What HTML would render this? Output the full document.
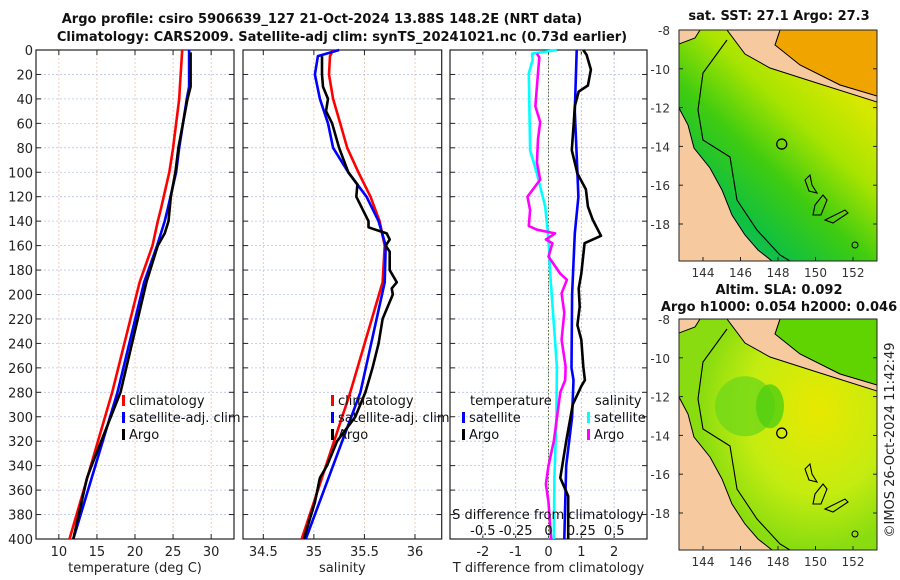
<!DOCTYPE html>
<html><head><meta charset="utf-8"><style>
html,body{margin:0;padding:0;background:#fff;}
svg{display:block;font-family:"DejaVu Sans","Liberation Sans",sans-serif;}
</style></head><body>
<svg id="fig" width="900" height="580" viewBox="0 0 900 580" xmlns="http://www.w3.org/2000/svg">
<g font-weight="bold" font-size="13" text-anchor="middle" fill="#111">
<text x="322" y="23">Argo profile: csiro 5906639_127 21-Oct-2024 13.88S 148.2E (NRT data)</text>
<text x="342" y="41">Climatology: CARS2009. Satellite-adj clim: synTS_20241021.nc (0.73d earlier)</text>
<text x="779" y="20">sat. SST: 27.1 Argo: 27.3</text>
<text x="779" y="294">Altim. SLA: 0.092</text>
<text x="779" y="311">Argo h1000: 0.054 h2000: 0.046</text>
</g>
<text x="0" y="0" font-size="13" fill="#222" text-anchor="middle" transform="translate(894,440) rotate(-90)">©IMOS 26-Oct-2024 11:42:49</text>
<g id="panels"></g>
<g id="maps"></g>
</svg>
<script>
// ---- data (depth in dbar) ----
const tempDepths   = [0, 30, 40, 80, 100, 130, 140, 160, 190, 280, 400];
const tempClim     = [26.2, 25.9, 25.8, 25.0, 24.5, 23.4, 23.0, 22.3, 20.6, 17.0, 11.4];
const tempSat      = [27.1, 27.1, 26.8, 25.8, 25.4, 24.3, 23.9, 22.9, 21.2, 17.7, 11.9];
const argoTDepths  = [2, 30, 40, 80, 100, 120, 140, 150, 160, 190, 280, 340, 350, 400];
const argoTemp     = [27.3, 27.3, 26.9, 25.7, 25.3, 24.7, 24.4, 23.9, 23.0, 21.5, 18.1, 14.3, 13.7, 11.9];

const salDepths    = [0, 5, 20, 40, 60, 80, 100, 120, 140, 160, 190, 280, 400];
const salClim      = [35.19, 35.16, 35.15, 35.19, 35.26, 35.33, 35.44, 35.56, 35.65, 35.70, 35.68, 35.36, 34.88];
const salSat       = [35.25, 35.04, 35.01, 35.06, 35.14, 35.19, 35.34, 35.52, 35.64, 35.71, 35.70, 35.46, 34.92];
const argoSDepths  = [5, 20, 30, 40, 50, 60, 80, 100, 110, 120, 140, 145, 150, 155, 160, 165, 180, 190, 195, 200, 220, 240, 260, 280, 300, 320, 340, 350, 370, 400];
const argoSal      = [35.08, 35.08, 35.09, 35.14, 35.12, 35.18, 35.25, 35.34, 35.43, 35.42, 35.54, 35.54, 35.72, 35.75, 35.71, 35.75, 35.75, 35.82, 35.77, 35.78, 35.68, 35.64, 35.58, 35.51, 35.41, 35.23, 35.13, 35.06, 35.01, 34.90];

const dTSatDepths  = [0, 50, 100, 120, 150, 200, 260, 270, 300, 340, 400];
const dTSat        = [0.86, 0.80, 0.88, 0.91, 0.80, 0.72, 0.70, 0.76, 0.72, 0.54, 0.48];
const dTArgoDepths = [0, 4, 16, 29, 34, 46, 59, 82, 101, 114, 128, 139, 152, 158, 170, 183, 195, 210, 225, 237, 259, 270, 275, 290, 320, 350, 365, 400];
const dTArgo       = [1.06, 1.16, 1.29, 1.2, 0.92, 0.8, 0.77, 0.71, 0.88, 1.14, 1.2, 1.35, 1.6, 1.1, 1.05, 1.0, 0.92, 0.95, 0.88, 1.0, 1.06, 1.11, 1.0, 0.74, 0.54, 0.36, 0.6, 0.6];
const dSSatDepths  = [0, 3, 8, 19, 82, 101, 128, 155, 183, 259, 300, 350, 400];
const dSSat        = [0.064, -0.126, -0.12, -0.15, -0.14, -0.088, -0.025, 0.0, 0.013, 0.064, 0.06, 0.045, 0.04];
const dSArgoDepths = [3, 6, 30, 46, 59, 73, 92, 106, 120, 131, 144, 147, 150, 155, 158, 169, 183, 188, 199, 215, 237, 259, 270, 280, 320, 340, 355, 370, 400];
const dSArgo       = [-0.088, -0.07, -0.088, -0.1, -0.063, -0.08, -0.088, -0.063, -0.16, -0.14, -0.15, -0.088, 0.05, -0.02, 0.03, 0.0, 0.09, 0.14, 0.1, 0.12, 0.1, 0.13, 0.127, 0.09, 0.04, 0.0, -0.02, 0.0, 0.02];

const depthTicks   = [0,20,40,60,80,100,120,140,160,180,200,220,240,260,280,300,320,340,360,380,400];
const tempTicks    = [10, 15, 20, 25, 30];
const salTicks     = [34.5, 35, 35.5, 36];
const dTTicks      = [-2, -1, 0, 1, 2];
const dSTicks      = [-0.5, -0.25, 0, 0.25, 0.5];
const dSTickLabels = ["-0.5", "-0.25", "0", "0.25", "0.5"];

const NS = "http://www.w3.org/2000/svg";
function mk(parent, tag, attrs, text) {
  const e = document.createElementNS(NS, tag);
  for (const k in attrs) e.setAttribute(k, attrs[k]);
  if (text !== undefined) e.textContent = text;
  parent.appendChild(e);
  return e;
}
const Y0 = 50, Y1 = 539;
const yScale = d => Y0 + d * (Y1 - Y0) / 400;
function linScale(d0, d1, r0, r1) { return v => r0 + (v - d0) * (r1 - r0) / (d1 - d0); }

const panels = document.getElementById('panels');

function panelFrame(name, x0, x1, xScale, xTicks, xLabels, xTitle, showYLabels) {
  const g = mk(panels, 'g', {});
  
  
  depthTicks.forEach(d => {
    const gl = mk(g, 'line', {x1: x0, x2: x1, y1: yScale(d), y2: yScale(d), stroke: '#b8c4ec', 'stroke-width': 0.8, 'stroke-dasharray': '2,2'});
    
    
    mk(g, 'line', {x1: x0, x2: x0 + 5, y1: yScale(d), y2: yScale(d), stroke: '#222', 'stroke-width': 1});
    mk(g, 'line', {x1: x1 - 5, x2: x1, y1: yScale(d), y2: yScale(d), stroke: '#222', 'stroke-width': 1});
    if (showYLabels) {
      const t = mk(g, 'text', {x: x0 - 3, y: yScale(d) + 5, 'font-size': 13, 'text-anchor': 'end', fill: '#222'}, String(d));
      
      
    }
  });
  xTicks.forEach((v, i) => {
    const x = xScale(v);
    const gl = mk(g, 'line', {x1: x, x2: x, y1: Y0, y2: Y1, stroke: '#e8c0a8', 'stroke-width': 0.8, 'stroke-dasharray': '2,2'});
    
    
    mk(g, 'line', {x1: x, x2: x, y1: Y1, y2: Y1 - 5, stroke: '#222'});
    mk(g, 'line', {x1: x, x2: x, y1: Y0, y2: Y0 + 5, stroke: '#222'});
    const t = mk(g, 'text', {x: x, y: 556, 'font-size': 13, 'text-anchor': 'middle', fill: '#222'}, xLabels[i]);
    
    
  });
  const tt = mk(g, 'text', {x: (x0 + x1) / 2, y: 572, 'font-size': 13, 'text-anchor': 'middle', fill: '#222'}, xTitle);
  
  
  const fr = mk(g, 'rect', {x: x0, y: Y0, width: x1 - x0, height: Y1 - Y0, fill: 'none', stroke: '#222', 'stroke-width': 1.2});
  
  
  return g;
}
function line(g, name, depths, vals, xScale, color, w) {
  const pts = depths.map((d, i) => xScale(vals[i]).toFixed(1) + ',' + yScale(d).toFixed(1)).join(' ');
  const p = mk(g, 'polyline', {points: pts, fill: 'none', stroke: color, 'stroke-width': w || 2.6, 'stroke-linejoin': 'round'});
  
  
}
function legend(g, x, y, color, label, name) {
  const e = mk(g, 'g', {});
  
  
  mk(e, 'rect', {x: x, y: y - 10, width: 3, height: 11, fill: color});
  mk(e, 'text', {x: x + 7, y: y, 'font-size': 13, fill: '#111'}, label);
}

// Panel 1: temperature
const xT = linScale(7, 33, 36, 234);
const p1 = panelFrame('temperature-panel', 36, 234, xT, tempTicks, tempTicks.map(String), 'temperature (deg C)', true);
line(p1, 'temp-climatology-line', tempDepths, tempClim, xT, '#f00');
line(p1, 'temp-satellite-line', tempDepths, tempSat, xT, '#00f');
line(p1, 'temp-argo-line', argoTDepths, argoTemp, xT, '#000');
legend(p1, 122, 405, '#f00', 'climatology', 'legend-climatology');
legend(p1, 122, 422, '#00f', 'satellite-adj. clim', 'legend-satellite');
legend(p1, 122, 439, '#000', 'Argo', 'legend-argo');

// Panel 2: salinity
const xS = linScale(34.5, 36, 263.3, 415);
const p2 = panelFrame('salinity-panel', 243, 441.7, xS, salTicks, salTicks.map(String), 'salinity', false);
line(p2, 'sal-climatology-line', salDepths, salClim, xS, '#f00');
line(p2, 'sal-satellite-line', salDepths, salSat, xS, '#00f');
line(p2, 'sal-argo-line', argoSDepths, argoSal, xS, '#000');
legend(p2, 331, 405, '#f00', 'climatology', 'legend-climatology');
legend(p2, 331, 422, '#00f', 'satellite-adj. clim', 'legend-satellite');
legend(p2, 331, 439, '#000', 'Argo', 'legend-argo');

// Panel 3: differences
const xD = linScale(-3, 3, 450, 647);
const xDS = linScale(-0.75, 0.75, 450, 647);
const p3 = panelFrame('difference-panel', 450, 647, xD, dTTicks, dTTicks.map(String), 'T difference from climatology', false);
dSTicks.forEach(v => {
  const gl = mk(p3, 'line', {x1: xDS(v), x2: xDS(v), y1: Y0, y2: Y1, stroke: '#b8c4ec', 'stroke-width': 0.8, 'stroke-dasharray': '2,2'});
  
  
});
const zl = mk(p3, 'line', {x1: xD(0), x2: xD(0), y1: Y0, y2: Y1, stroke: '#556b2f', 'stroke-width': 1, 'stroke-dasharray': '1.5,2'});


line(p3, 'dS-satellite-line', dSSatDepths, dSSat, xDS, '#0ff');
line(p3, 'dS-argo-line', dSArgoDepths, dSArgo, xDS, '#f0f');
line(p3, 'dT-satellite-line', dTSatDepths, dTSat, xD, '#00f');
line(p3, 'dT-argo-line', dTArgoDepths, dTArgo, xD, '#000');
const st = mk(p3, 'text', {x: 548, y: 519, 'font-size': 13, 'text-anchor': 'middle', fill: '#111'}, 'S difference from climatology');


dSTicks.forEach((v, i) => {
  const t = mk(p3, 'text', {x: xDS(v), y: 535, 'font-size': 13, 'text-anchor': 'middle', fill: '#111'}, dSTickLabels[i]);
  
  
});
const lt = mk(p3, 'text', {x: 470, y: 405, 'font-size': 13, fill: '#111'}, 'temperature');


legend(p3, 462, 422, '#00f', 'satellite', 'legend-t-satellite');
legend(p3, 462, 439, '#000', 'Argo', 'legend-t-argo');
const ls = mk(p3, 'text', {x: 595, y: 405, 'font-size': 13, fill: '#111'}, 'salinity');


legend(p3, 587, 422, '#0ff', 'satellite', 'legend-s-satellite');
legend(p3, 587, 439, '#f0f', 'Argo', 'legend-s-argo');

// ---- Maps ----
const mapLonTicks = [144, 146, 148, 150, 152];
const mapLatTicks = [-8, -10, -12, -14, -16, -18];
const argoLon = 148.2, argoLat = -13.88;
const maps = document.getElementById('maps');
const defs = mk(maps, 'defs', {});
defs.innerHTML =
 '<linearGradient id="sstG" x1="0.1" y1="1" x2="0.9" y2="0">' +
 '<stop offset="0" stop-color="#20c088"/><stop offset="0.22" stop-color="#10c040"/><stop offset="0.42" stop-color="#40cc10"/><stop offset="0.62" stop-color="#a8e400"/><stop offset="0.82" stop-color="#d8e800"/><stop offset="1" stop-color="#f0c000"/></linearGradient>' +
 '<radialGradient id="slaG" cx="0.7" cy="0.4" r="0.6"><stop offset="0" stop-color="#e8e800"/><stop offset="0.6" stop-color="#c4ec10"/><stop offset="1" stop-color="#88dc10"/></radialGradient>' +
 '<clipPath id="c1"><rect x="679" y="30" width="198" height="231"/></clipPath>' +
 '<clipPath id="c2"><rect x="679" y="319" width="198" height="231"/></clipPath>';

function drawMap(name, top, bottom, fill, northColor, clip) {
  const g = mk(maps, 'g', {});
  
  
  const lon = linScale(144, 152, 703, 853);
  const lat = linScale(-8, -18, top, top + 194);
  const inner = mk(g, 'g', {'clip-path': 'url(#' + clip + ')'});
  mk(inner, 'rect', {x: 679, y: top, width: 198, height: bottom - top, fill: fill});
  if (name === 'sla-map') {
    mk(inner, 'ellipse', {cx: 745, cy: lat(-12.5), rx: 30, ry: 30, fill: '#70d818', opacity: 0.8});
    mk(inner, 'ellipse', {cx: 770, cy: lat(-12.5), rx: 14, ry: 22, fill: '#50d010', opacity: 0.8});
  }
  // NE ocean
  mk(inner, 'polygon', {points: `780,${top} 877,${top} 877,${top + 66} 840,${top + 55} 800,${top + 35} 775,${top + 15}`, fill: northColor, stroke: '#000', 'stroke-width': 0.8});
  // PNG land
  mk(inner, 'polygon', {points: `727,${top} 780,${top} 775,${top + 15} 800,${top + 35} 840,${top + 55} 877,${top + 66} 877,${top + 72} 820,${top + 54} 770,${top + 38} 745,${top + 24}`, fill: '#f7c99e', stroke: '#000', 'stroke-width': 1});
  // NW corner land
  mk(inner, 'polygon', {points: `679,${top} 700,${top} 695,${top + 8} 679,${top + 14}`, fill: '#f7c99e', stroke: '#000', 'stroke-width': 1});
  // Australia land
  mk(inner, 'polygon', {points: `679,${top + 78} 688,${top + 95} 694,${top + 118} 710,${top + 138} 722,${top + 160} 732,${top + 185} 745,${top + 205} 758,${top + 220} 772,${bottom} 679,${bottom}`, fill: '#f7c99e', stroke: '#000', 'stroke-width': 1});
  // isobath
  mk(inner, 'path', {d: `M727,${top + 10} L703,${top + 43} L698,${top + 80} L703,${top + 110} L730,${top + 127} L737,${top + 170} L757,${top + 200} L780,${top + 225} L790,${bottom}`, fill: 'none', stroke: '#000', 'stroke-width': 1.1});
  // islands
  mk(inner, 'path', {d: `M805,${top + 150} l5,-5 l2,10 l5,8 l-8,-2 z M815,${top + 175} l8,-10 l4,5 l-6,15 l-8,0 z M825,${top + 190} l20,-10 l3,3 l-15,10 z`, fill: 'none', stroke: '#000', 'stroke-width': 1.1});
  mk(inner, 'circle', {cx: 855, cy: top + 215, r: 3, fill: 'none', stroke: '#000'});
  const m = mk(g, 'circle', {cx: lon(argoLon), cy: lat(argoLat), r: 5, fill: 'none', stroke: '#000', 'stroke-width': 1.3});
  
  
  mk(g, 'rect', {x: 679, y: top, width: 198, height: bottom - top, fill: 'none', stroke: '#222', 'stroke-width': 1});
  mapLonTicks.forEach(v => {
    mk(g, 'line', {x1: lon(v), x2: lon(v), y1: bottom, y2: bottom - 4, stroke: '#222'});
    const t = mk(g, 'text', {x: lon(v), y: bottom + 16, 'font-size': 12, 'text-anchor': 'middle', fill: '#333'}, String(v));
    
    
  });
  mapLatTicks.forEach(v => {
    mk(g, 'line', {x1: 877, x2: 873, y1: lat(v), y2: lat(v), stroke: '#222'});
    mk(g, 'line', {x1: 679, x2: 683, y1: lat(v), y2: lat(v), stroke: '#222'});
    const t = mk(g, 'text', {x: 670, y: lat(v) + 5, 'font-size': 12, 'text-anchor': 'end', fill: '#333'}, String(v));
    
    
  });
}
drawMap('sst-map', 30, 261, 'url(#sstG)', '#f0a400', 'c1');
drawMap('sla-map', 319, 550, 'url(#slaG)', '#60d400', 'c2');
</script>
</body></html>
